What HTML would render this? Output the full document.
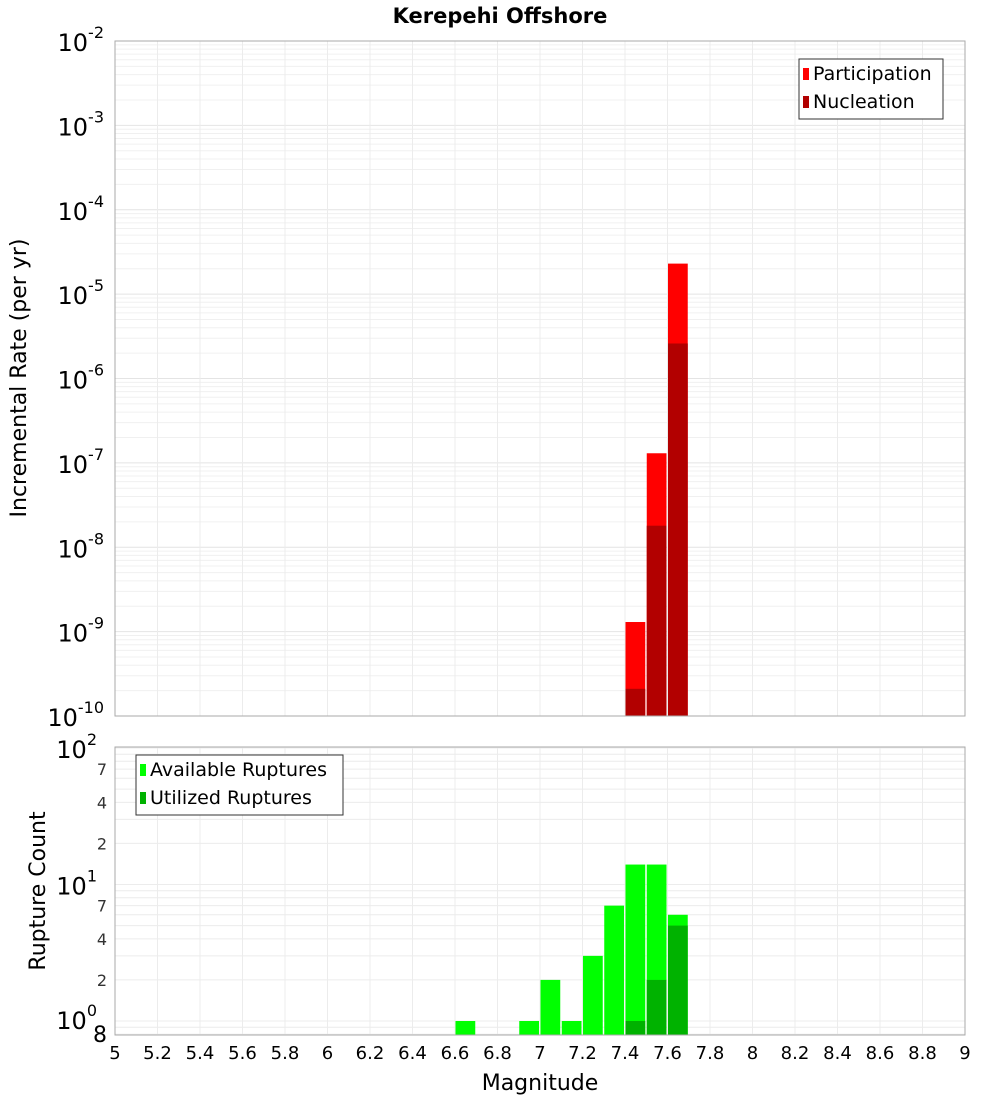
<!DOCTYPE html>
<html><head><meta charset="utf-8"><style>
body{margin:0;background:#fff;}
svg{display:block;font-family:"DejaVu Sans","Liberation Sans",sans-serif;}
</style></head><body>
<svg id="c" width="1000" height="1100" xmlns="http://www.w3.org/2000/svg">
<text x="500" y="23" text-anchor="middle" font-size="21" font-weight="bold">Kerepehi Offshore</text>
<text transform="translate(26,378) rotate(-90)" text-anchor="middle" font-size="22">Incremental Rate (per yr)</text>
<text transform="translate(45,891) rotate(-90)" text-anchor="middle" font-size="22">Rupture Count</text>
<text x="540" y="1090" text-anchor="middle" font-size="22">Magnitude</text>
<g id="g"></g>
</svg>
<script>
const bins=[7.45,7.55,7.65];
const participation=[1.3e-9,1.3e-7,2.3e-5];
const nucleation=[2.1e-10,1.8e-8,2.6e-6];
const countBins=[6.65,6.95,7.05,7.15,7.25,7.35,7.45,7.55,7.65];
const available=[1,1,2,1,3,7,14,14,6];
const utilBins=[7.45,7.55,7.65];
const utilized=[1,2,5];
const xTicks=["5","5.2","5.4","5.6","5.8","6","6.2","6.4","6.6","6.8","7","7.2","7.4","7.6","7.8","8","8.2","8.4","8.6","8.8","9"];
const topDecades=[-10,-9,-8,-7,-6,-5,-4,-3,-2];

const NS="http://www.w3.org/2000/svg";
const g=document.getElementById('g');
function el(t,a,txt){const e=document.createElementNS(NS,t);for(const k in a)e.setAttribute(k,a[k]);if(txt!==undefined)e.textContent=txt;g.appendChild(e);return e;}
const X0=115,X1=965;
const xs=m=>X0+(m-5)*(X1-X0)/4;
const T0=41,T1=716;
const yT=v=>T1-(Math.log10(v)+10)*(T1-T0)/8;
const B0=747,B1=1035;
const yB=c=>1021-Math.log10(c)*136.5;

// top panel grid
for(let d=-10;d<-2;d++){for(let k=1;k<10;k++){const y=yT(k*Math.pow(10,d));const e=el('line',{x1:X0,x2:X1,y1:y,y2:y,stroke:k==1?'#e4e4e4':'#f0f0f0','stroke-width':1});}}
for(let i=0;i<=20;i++){const x=xs(5+i*0.2);let e=el('line',{x1:x,x2:x,y1:T0,y2:T1,stroke:'#ececec'});
 e=el('line',{x1:x,x2:x,y1:B0,y2:B1,stroke:'#ececec'});}
// bottom grid
[0.8,0.9,1,2,3,4,5,6,7,8,9,10,20,30,40,50,60,70,80,90,100].forEach(c=>{const y=yB(c);if(y<B0||y>B1)return;const e=el('line',{x1:X0,x2:X1,y1:y,y2:y,stroke:'#ececec'});});

const bw=(X1-X0)/40;
// top bars
bins.forEach((m,i)=>{const x=xs(m)-bw/2+0.5;let y=yT(participation[i]);let e=el('rect',{x:x,y:y,width:bw-1.5,height:T1-y,fill:'#ff0000'});
 y=yT(nucleation[i]);e=el('rect',{x:x,y:y,width:bw-1.5,height:T1-y,fill:'#b20000'});});
// bottom bars
countBins.forEach((m,i)=>{const x=xs(m)-bw/2+0.5;const y=yB(available[i]);const e=el('rect',{x:x,y:y,width:bw-1.5,height:B1-y,fill:'#00ff00'});});
utilBins.forEach((m,i)=>{const x=xs(m)-bw/2+0.5;const y=yB(utilized[i]);const e=el('rect',{x:x,y:y,width:bw-1.5,height:B1-y,fill:'#00b200'});});

// frames
let f=el('rect',{x:X0,y:T0,width:X1-X0,height:T1-T0,fill:'none',stroke:'#aaa'});
f=el('rect',{x:X0,y:B0,width:X1-X0,height:B1-B0,fill:'none',stroke:'#aaa'});

// top y ticks
topDecades.forEach(d=>{const y=yT(Math.pow(10,d));const t=el('text',{x:104,y:y+10,'text-anchor':'end','font-size':24});
 t.textContent='10';const s=document.createElementNS(NS,'tspan');s.setAttribute('dy',-13);s.setAttribute('font-size',16);s.textContent=String(d);t.appendChild(s);});
// bottom y ticks
[[100,'2'],[10,'1'],[1,'0']].forEach(([c,p])=>{const y=yB(c)+(c==1?8:c==10?10:10);const t=el('text',{x:97,y:y,'text-anchor':'end','font-size':24});
 t.textContent='10';const s=document.createElementNS(NS,'tspan');s.setAttribute('dy',-13);s.setAttribute('font-size',16);s.textContent=p;t.appendChild(s);});
[[70,'7'],[40,'4'],[20,'2'],[7,'7'],[4,'4'],[2,'2'],[0.8,'8']].forEach(([c,l])=>{const y=yB(c)+6;const t=el('text',{x:107,y:c==0.8?1042:y,'text-anchor':'end','font-size':c==0.8?22:16,fill:c==0.8?'#000':'#333'},l);});
// x ticks
xTicks.forEach(l=>{const x=xs(parseFloat(l));const t=el('text',{x:x,y:1059,'text-anchor':'middle','font-size':18},l);});

// legends
function legend(x,y,w,items,nm){const r=el('rect',{x:x,y:y,width:w,height:items.length*28+4,fill:'#fff',stroke:'#333'});
 items.forEach(([c,l],i)=>{const yy=y+16+i*28;let e=el('rect',{x:x+4,y:yy-7,width:6,height:12,fill:c});
 e=el('text',{x:x+14,y:yy+5,'font-size':19},l);});}
legend(799,59,144,[['#ff0000','Participation'],['#b20000','Nucleation']],'top-legend');
legend(136,755,207,[['#00ff00','Available Ruptures'],['#00b200','Utilized Ruptures']],'bottom-legend');
</script>
</body></html>
